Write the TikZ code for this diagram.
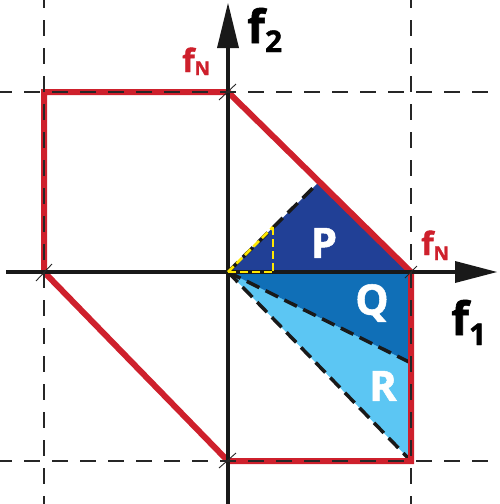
\documentclass[tikz,border=0pt]{standalone}
\usepackage{fontspec}
\setmainfont{Open Sans}
\newfontfamily\labfont[FakeBold=1.2]{Open Sans Bold}
\usetikzlibrary{calc}
\definecolor{colP}{RGB}{33,64,150}
\definecolor{colQ}{RGB}{16,111,183}
\definecolor{colR}{RGB}{92,198,243}
\definecolor{redN}{RGB}{206,32,44}
\definecolor{yel}{RGB}{255,232,0}
\tikzset{
  axisline/.style={line width=3.2pt, black!90},
  redline/.style={line width=6pt, redN, line join=miter},
  thindash/.style={line width=1.2pt, black!85, dash pattern=on 16pt off 12pt},
  bounddash/.style={line width=3.5pt, black!90, dash pattern=on 14pt off 7pt},
  yeldash/.style={line width=2.5pt, yel, dash pattern=on 8pt off 4pt},
  tick/.style={line width=0.9pt, black!85},
  lab/.style={inner sep=0pt, font=\labfont},
}
\begin{document}
\begin{tikzpicture}[x=1pt,y=-1pt]
\useasboundingbox (0,0) rectangle (499,504);
\coordinate (O) at (228,272);
\coordinate (A) at (228,92);
\coordinate (B) at (44,92);
\coordinate (C) at (44,272);
\coordinate (D) at (228,461);
\coordinate (E) at (411,461);
\coordinate (F) at (411,272);
\coordinate (M) at (319,182);
\coordinate (Qp) at (411,363);
\coordinate (Y1) at (273,272);
\coordinate (Y2) at (273,227);
% regions
\fill[colR] (O) -- (Qp) -- (E) -- cycle;
\fill[colQ] (O) -- (F) -- (Qp) -- cycle;
\fill[colP] (O) -- (F) -- (M) -- cycle;
% region boundaries
\draw[bounddash] (O) -- (M);
\draw[bounddash] (O) -- (Qp);
\draw[bounddash] (O) -- (E);
% red polygon
\draw[redline] (A) -- (B) -- (C) -- (D) -- (E) -- (F) -- cycle;
% axes
\coordinate (X0) at (6,272);
\coordinate (X1) at (458,272);
\coordinate (Xt) at (497,272);
\coordinate (V0) at (228,504);
\coordinate (V1) at (228,44);
\coordinate (Vt) at (228,3);
\draw[axisline] (X0) -- (X1);
\fill[black!90] (Xt) -- (455,261) -- (455,283) -- cycle;
\draw[axisline] (V0) -- (V1);
\fill[black!90] (Vt) -- (217,48) -- (239,48) -- cycle;
% thin dashed guides
\coordinate (h1a) at (0,92);   \coordinate (h1b) at (499,92);
\coordinate (h2a) at (0,461);  \coordinate (h2b) at (499,461);
\coordinate (v1a) at (44,0);   \coordinate (v1b) at (44,504);
\coordinate (v2a) at (411,0);  \coordinate (v2b) at (411,504);
\draw[thindash, dash phase=4pt] (h1a) -- (h1b);
\draw[thindash, dash phase=4pt] (h2a) -- (h2b);
\draw[thindash, dash phase=8pt] (v1a) -- (v1b);
\draw[thindash, dash phase=8pt] (v2a) -- (v2b);
% yellow triangle
\draw[yeldash] (O) -- (Y2);
\draw[yeldash] (Y2) -- (Y1);
\draw[yeldash] (O) -- (Y1);
% ticks
\draw[tick] ($(A)+(-9,8)$) -- ($(A)+(8,-8)$);
\draw[tick] ($(C)+(-8,9)$) -- ($(C)+(8,-8)$);
\draw[tick] ($(D)+(-9,7)$) -- ($(D)+(8,-8)$);
\draw[tick] ($(F)+(-6,6)$) -- ($(F)+(6,-6)$);
% labels
\node[lab, anchor=base west, text=redN] (fN1) at (182,72)
  {\fontsize{32}{32}\selectfont f\raisebox{-3pt}{\fontsize{19}{19}\selectfont N}};
\node[lab, anchor=base west, text=redN] (fN2) at (421,255)
  {\fontsize{32}{32}\selectfont f\raisebox{-5pt}{\fontsize{19}{19}\selectfont N}};
\node[lab, anchor=base west] (f2) at (247,43)
  {\fontsize{46}{46}\selectfont f\raisebox{-9pt}{\fontsize{30}{30}\selectfont 2}};
\node[lab, anchor=base west] (f1) at (451,335)
  {\fontsize{46}{46}\selectfont f\raisebox{-10pt}{\fontsize{30}{30}\selectfont 1}};
\node[lab, text=white, font=\labfont\fontsize{42}{42}\selectfont] (P) at (324,243) {P};
\node[lab, text=white, font=\labfont\fontsize{42}{42}\selectfont] (Q) at (372,303) {Q};
\node[lab, text=white, font=\labfont\fontsize{42}{42}\selectfont] (R) at (383,386) {R};
\end{tikzpicture}
\end{document}
